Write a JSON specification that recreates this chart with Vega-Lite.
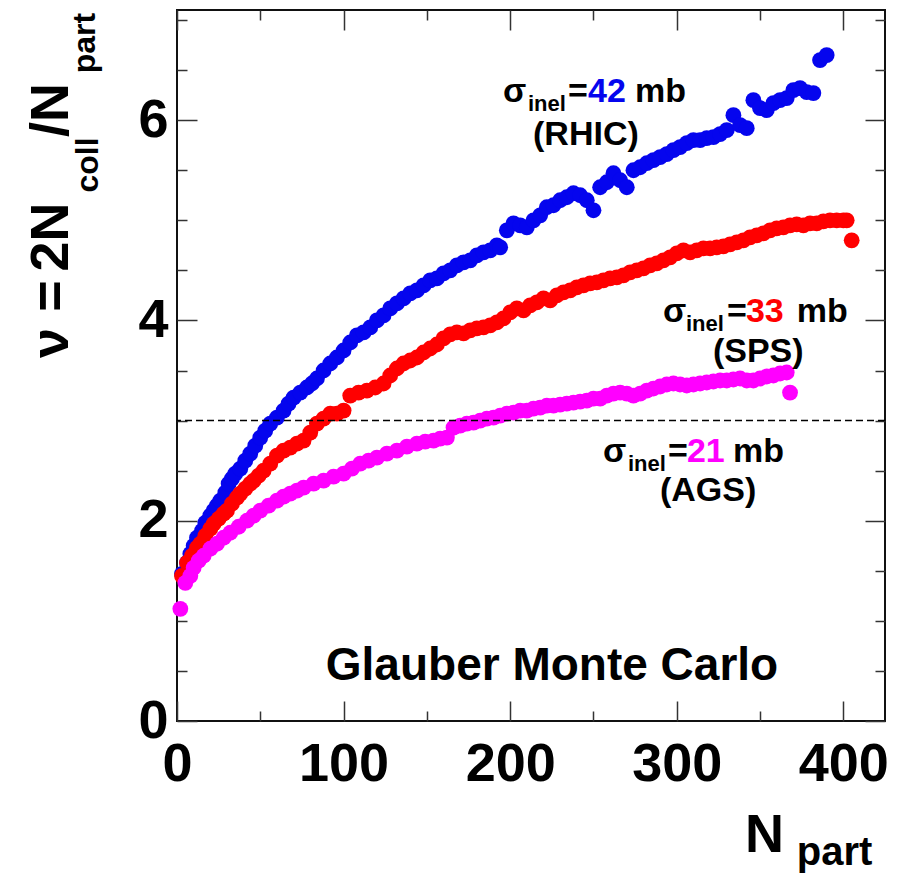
{
  "$schema": "https://vega.github.io/schema/vega-lite/v6.json",
  "width": 708,
  "height": 711,
  "autosize": "none",
  "padding": {"left": 177, "top": 10, "right": 16, "bottom": 159},
  "background": "#ffffff",
  "config": {
    "view": {"stroke": "#111", "strokeWidth": 2},
    "font": "Liberation Sans",
    "text": {"font": "Liberation Sans", "fontWeight": "bold"}
  },
  "datasets": {
    "pts": [
      {"s":"RHIC","x":3,"y":1.47},{"s":"RHIC","x":6,"y":1.58},{"s":"RHIC","x":8,"y":1.67},{"s":"RHIC","x":10,"y":1.75},{"s":"RHIC","x":12,"y":1.83},{"s":"RHIC","x":15,"y":1.9},{"s":"RHIC","x":17,"y":1.98},{"s":"RHIC","x":20,"y":2.05},{"s":"RHIC","x":22,"y":2.1},{"s":"RHIC","x":24,"y":2.15},{"s":"RHIC","x":26,"y":2.2},{"s":"RHIC","x":29,"y":2.28},{"s":"RHIC","x":31,"y":2.37},{"s":"RHIC","x":33,"y":2.42},{"s":"RHIC","x":35,"y":2.47},{"s":"RHIC","x":38,"y":2.52},{"s":"RHIC","x":41,"y":2.6},{"s":"RHIC","x":44,"y":2.67},{"s":"RHIC","x":47,"y":2.75},{"s":"RHIC","x":50,"y":2.83},{"s":"RHIC","x":53,"y":2.9},{"s":"RHIC","x":56,"y":2.97},{"s":"RHIC","x":60,"y":3.03},{"s":"RHIC","x":64,"y":3.1},{"s":"RHIC","x":67,"y":3.17},{"s":"RHIC","x":70,"y":3.23},{"s":"RHIC","x":74,"y":3.28},{"s":"RHIC","x":78,"y":3.33},{"s":"RHIC","x":81,"y":3.37},{"s":"RHIC","x":84,"y":3.42},{"s":"RHIC","x":88,"y":3.5},{"s":"RHIC","x":92,"y":3.57},{"s":"RHIC","x":96,"y":3.63},{"s":"RHIC","x":100,"y":3.7},{"s":"RHIC","x":104,"y":3.78},{"s":"RHIC","x":108,"y":3.85},{"s":"RHIC","x":112,"y":3.88},{"s":"RHIC","x":116,"y":3.93},{"s":"RHIC","x":120,"y":4.0},{"s":"RHIC","x":124,"y":4.05},{"s":"RHIC","x":128,"y":4.12},{"s":"RHIC","x":132,"y":4.17},{"s":"RHIC","x":136,"y":4.22},{"s":"RHIC","x":140,"y":4.27},{"s":"RHIC","x":144,"y":4.3},{"s":"RHIC","x":148,"y":4.35},{"s":"RHIC","x":152,"y":4.4},{"s":"RHIC","x":156,"y":4.42},{"s":"RHIC","x":160,"y":4.47},{"s":"RHIC","x":164,"y":4.5},{"s":"RHIC","x":168,"y":4.55},{"s":"RHIC","x":172,"y":4.58},{"s":"RHIC","x":176,"y":4.6},{"s":"RHIC","x":180,"y":4.65},{"s":"RHIC","x":184,"y":4.68},{"s":"RHIC","x":188,"y":4.7},{"s":"RHIC","x":192,"y":4.75},{"s":"RHIC","x":194,"y":4.73},{"s":"RHIC","x":198,"y":4.9},{"s":"RHIC","x":202,"y":4.97},{"s":"RHIC","x":206,"y":4.95},{"s":"RHIC","x":210,"y":4.93},{"s":"RHIC","x":214,"y":5.0},{"s":"RHIC","x":218,"y":5.05},{"s":"RHIC","x":222,"y":5.13},{"s":"RHIC","x":226,"y":5.15},{"s":"RHIC","x":230,"y":5.2},{"s":"RHIC","x":234,"y":5.23},{"s":"RHIC","x":238,"y":5.27},{"s":"RHIC","x":242,"y":5.25},{"s":"RHIC","x":246,"y":5.2},{"s":"RHIC","x":250,"y":5.1},{"s":"RHIC","x":254,"y":5.33},{"s":"RHIC","x":258,"y":5.38},{"s":"RHIC","x":262,"y":5.47},{"s":"RHIC","x":266,"y":5.4},{"s":"RHIC","x":270,"y":5.33},{"s":"RHIC","x":274,"y":5.5},{"s":"RHIC","x":278,"y":5.53},{"s":"RHIC","x":282,"y":5.57},{"s":"RHIC","x":286,"y":5.6},{"s":"RHIC","x":290,"y":5.63},{"s":"RHIC","x":294,"y":5.66},{"s":"RHIC","x":298,"y":5.7},{"s":"RHIC","x":302,"y":5.73},{"s":"RHIC","x":306,"y":5.77},{"s":"RHIC","x":310,"y":5.8},{"s":"RHIC","x":314,"y":5.8},{"s":"RHIC","x":318,"y":5.82},{"s":"RHIC","x":322,"y":5.83},{"s":"RHIC","x":326,"y":5.86},{"s":"RHIC","x":330,"y":5.9},{"s":"RHIC","x":334,"y":6.05},{"s":"RHIC","x":338,"y":5.95},{"s":"RHIC","x":342,"y":5.92},{"s":"RHIC","x":346,"y":6.2},{"s":"RHIC","x":350,"y":6.12},{"s":"RHIC","x":354,"y":6.1},{"s":"RHIC","x":358,"y":6.17},{"s":"RHIC","x":362,"y":6.2},{"s":"RHIC","x":366,"y":6.22},{"s":"RHIC","x":370,"y":6.3},{"s":"RHIC","x":374,"y":6.32},{"s":"RHIC","x":378,"y":6.28},{"s":"RHIC","x":382,"y":6.27},{"s":"RHIC","x":386,"y":6.6},{"s":"RHIC","x":390,"y":6.65},
      {"s":"SPS","x":3,"y":1.45},{"s":"SPS","x":6,"y":1.58},{"s":"SPS","x":9,"y":1.65},{"s":"SPS","x":12,"y":1.73},{"s":"SPS","x":14,"y":1.77},{"s":"SPS","x":17,"y":1.85},{"s":"SPS","x":20,"y":1.92},{"s":"SPS","x":22,"y":1.97},{"s":"SPS","x":25,"y":2.02},{"s":"SPS","x":28,"y":2.07},{"s":"SPS","x":30,"y":2.1},{"s":"SPS","x":33,"y":2.17},{"s":"SPS","x":36,"y":2.23},{"s":"SPS","x":38,"y":2.27},{"s":"SPS","x":41,"y":2.32},{"s":"SPS","x":44,"y":2.37},{"s":"SPS","x":46,"y":2.4},{"s":"SPS","x":49,"y":2.45},{"s":"SPS","x":52,"y":2.5},{"s":"SPS","x":56,"y":2.57},{"s":"SPS","x":60,"y":2.65},{"s":"SPS","x":64,"y":2.7},{"s":"SPS","x":68,"y":2.73},{"s":"SPS","x":72,"y":2.77},{"s":"SPS","x":76,"y":2.8},{"s":"SPS","x":80,"y":2.88},{"s":"SPS","x":84,"y":2.97},{"s":"SPS","x":88,"y":3.02},{"s":"SPS","x":92,"y":3.07},{"s":"SPS","x":96,"y":3.07},{"s":"SPS","x":100,"y":3.1},{"s":"SPS","x":104,"y":3.25},{"s":"SPS","x":109,"y":3.28},{"s":"SPS","x":114,"y":3.3},{"s":"SPS","x":119,"y":3.33},{"s":"SPS","x":124,"y":3.37},{"s":"SPS","x":128,"y":3.45},{"s":"SPS","x":132,"y":3.52},{"s":"SPS","x":136,"y":3.57},{"s":"SPS","x":140,"y":3.6},{"s":"SPS","x":144,"y":3.63},{"s":"SPS","x":148,"y":3.68},{"s":"SPS","x":152,"y":3.72},{"s":"SPS","x":156,"y":3.76},{"s":"SPS","x":160,"y":3.82},{"s":"SPS","x":164,"y":3.86},{"s":"SPS","x":168,"y":3.88},{"s":"SPS","x":172,"y":3.87},{"s":"SPS","x":176,"y":3.9},{"s":"SPS","x":180,"y":3.92},{"s":"SPS","x":184,"y":3.93},{"s":"SPS","x":188,"y":3.95},{"s":"SPS","x":192,"y":3.98},{"s":"SPS","x":196,"y":4.02},{"s":"SPS","x":200,"y":4.08},{"s":"SPS","x":204,"y":4.12},{"s":"SPS","x":208,"y":4.1},{"s":"SPS","x":212,"y":4.15},{"s":"SPS","x":216,"y":4.18},{"s":"SPS","x":220,"y":4.22},{"s":"SPS","x":224,"y":4.2},{"s":"SPS","x":228,"y":4.25},{"s":"SPS","x":232,"y":4.28},{"s":"SPS","x":236,"y":4.3},{"s":"SPS","x":240,"y":4.33},{"s":"SPS","x":244,"y":4.35},{"s":"SPS","x":248,"y":4.37},{"s":"SPS","x":252,"y":4.38},{"s":"SPS","x":256,"y":4.4},{"s":"SPS","x":260,"y":4.42},{"s":"SPS","x":264,"y":4.43},{"s":"SPS","x":268,"y":4.45},{"s":"SPS","x":272,"y":4.48},{"s":"SPS","x":276,"y":4.5},{"s":"SPS","x":280,"y":4.52},{"s":"SPS","x":284,"y":4.55},{"s":"SPS","x":288,"y":4.57},{"s":"SPS","x":292,"y":4.6},{"s":"SPS","x":296,"y":4.63},{"s":"SPS","x":300,"y":4.67},{"s":"SPS","x":304,"y":4.7},{"s":"SPS","x":308,"y":4.68},{"s":"SPS","x":312,"y":4.7},{"s":"SPS","x":316,"y":4.72},{"s":"SPS","x":320,"y":4.72},{"s":"SPS","x":324,"y":4.73},{"s":"SPS","x":328,"y":4.74},{"s":"SPS","x":332,"y":4.76},{"s":"SPS","x":336,"y":4.78},{"s":"SPS","x":340,"y":4.8},{"s":"SPS","x":344,"y":4.83},{"s":"SPS","x":348,"y":4.85},{"s":"SPS","x":352,"y":4.87},{"s":"SPS","x":356,"y":4.9},{"s":"SPS","x":360,"y":4.92},{"s":"SPS","x":364,"y":4.93},{"s":"SPS","x":368,"y":4.95},{"s":"SPS","x":372,"y":4.96},{"s":"SPS","x":376,"y":4.95},{"s":"SPS","x":380,"y":4.97},{"s":"SPS","x":384,"y":4.97},{"s":"SPS","x":388,"y":4.99},{"s":"SPS","x":392,"y":5.0},{"s":"SPS","x":396,"y":5.0},{"s":"SPS","x":400,"y":5.0},{"s":"SPS","x":402,"y":5.0},{"s":"SPS","x":405,"y":4.8},
      {"s":"AGS","x":2,"y":1.12},{"s":"AGS","x":5,"y":1.38},{"s":"AGS","x":8,"y":1.45},{"s":"AGS","x":10,"y":1.53},{"s":"AGS","x":13,"y":1.6},{"s":"AGS","x":16,"y":1.65},{"s":"AGS","x":20,"y":1.72},{"s":"AGS","x":24,"y":1.77},{"s":"AGS","x":28,"y":1.83},{"s":"AGS","x":32,"y":1.88},{"s":"AGS","x":37,"y":1.94},{"s":"AGS","x":42,"y":2.0},{"s":"AGS","x":46,"y":2.05},{"s":"AGS","x":50,"y":2.1},{"s":"AGS","x":55,"y":2.15},{"s":"AGS","x":60,"y":2.2},{"s":"AGS","x":64,"y":2.24},{"s":"AGS","x":68,"y":2.27},{"s":"AGS","x":72,"y":2.3},{"s":"AGS","x":76,"y":2.33},{"s":"AGS","x":82,"y":2.37},{"s":"AGS","x":88,"y":2.4},{"s":"AGS","x":94,"y":2.44},{"s":"AGS","x":100,"y":2.47},{"s":"AGS","x":105,"y":2.52},{"s":"AGS","x":110,"y":2.57},{"s":"AGS","x":115,"y":2.6},{"s":"AGS","x":120,"y":2.63},{"s":"AGS","x":126,"y":2.67},{"s":"AGS","x":132,"y":2.7},{"s":"AGS","x":138,"y":2.74},{"s":"AGS","x":144,"y":2.77},{"s":"AGS","x":149,"y":2.79},{"s":"AGS","x":154,"y":2.8},{"s":"AGS","x":158,"y":2.82},{"s":"AGS","x":162,"y":2.83},{"s":"AGS","x":166,"y":2.93},{"s":"AGS","x":170,"y":2.95},{"s":"AGS","x":174,"y":2.97},{"s":"AGS","x":178,"y":2.98},{"s":"AGS","x":182,"y":3.0},{"s":"AGS","x":186,"y":3.02},{"s":"AGS","x":190,"y":3.03},{"s":"AGS","x":194,"y":3.05},{"s":"AGS","x":198,"y":3.07},{"s":"AGS","x":202,"y":3.08},{"s":"AGS","x":206,"y":3.1},{"s":"AGS","x":210,"y":3.1},{"s":"AGS","x":214,"y":3.12},{"s":"AGS","x":218,"y":3.13},{"s":"AGS","x":222,"y":3.15},{"s":"AGS","x":226,"y":3.15},{"s":"AGS","x":230,"y":3.16},{"s":"AGS","x":234,"y":3.17},{"s":"AGS","x":238,"y":3.18},{"s":"AGS","x":242,"y":3.19},{"s":"AGS","x":246,"y":3.2},{"s":"AGS","x":250,"y":3.22},{"s":"AGS","x":254,"y":3.22},{"s":"AGS","x":258,"y":3.25},{"s":"AGS","x":262,"y":3.27},{"s":"AGS","x":266,"y":3.28},{"s":"AGS","x":270,"y":3.27},{"s":"AGS","x":274,"y":3.25},{"s":"AGS","x":278,"y":3.27},{"s":"AGS","x":282,"y":3.3},{"s":"AGS","x":286,"y":3.32},{"s":"AGS","x":290,"y":3.34},{"s":"AGS","x":294,"y":3.36},{"s":"AGS","x":298,"y":3.37},{"s":"AGS","x":302,"y":3.36},{"s":"AGS","x":306,"y":3.35},{"s":"AGS","x":310,"y":3.36},{"s":"AGS","x":314,"y":3.37},{"s":"AGS","x":318,"y":3.38},{"s":"AGS","x":322,"y":3.39},{"s":"AGS","x":326,"y":3.4},{"s":"AGS","x":330,"y":3.4},{"s":"AGS","x":334,"y":3.41},{"s":"AGS","x":338,"y":3.42},{"s":"AGS","x":342,"y":3.4},{"s":"AGS","x":346,"y":3.4},{"s":"AGS","x":350,"y":3.42},{"s":"AGS","x":354,"y":3.44},{"s":"AGS","x":358,"y":3.45},{"s":"AGS","x":362,"y":3.47},{"s":"AGS","x":366,"y":3.48},{"s":"AGS","x":368,"y":3.28}
    ],
    "annMain": [
      {"x":195.7,"y":6.181,"t":"σ"},{"x":234.7,"y":6.181,"t":"="},{"x":274.9,"y":6.181,"t":"mb"},{"x":213.7,"y":5.752,"t":"(RHIC)"},
      {"x":291.7,"y":3.981,"t":"σ"},{"x":330.1,"y":3.981,"t":"="},{"x":372.1,"y":3.981,"t":"mb"},{"x":321.7,"y":3.585,"t":"(SPS)"},
      {"x":255.7,"y":2.586,"t":"σ"},{"x":294.7,"y":2.586,"t":"="},{"x":333.7,"y":2.586,"t":"mb"},{"x":289.9,"y":2.197,"t":"(AGS)"}
    ],
    "annSub": [
      {"x":210.7,"y":6.091,"t":"inel"},{"x":305.5,"y":3.891,"t":"inel"},{"x":270.7,"y":2.497,"t":"inel"}
    ],
    "annNum": [
      {"x":246.7,"y":6.181,"t":"42","s":"RHIC"},{"x":341.5,"y":3.981,"t":"33","s":"SPS"},{"x":306.1,"y":2.586,"t":"21","s":"AGS"}
    ],
    "label": [{"x":225.1,"y":0.41,"t":"Glauber Monte Carlo"}],
    "xTitleMain": [{"x":340.9,"y":-1.308,"t":"N"}],
    "xTitleSub": [{"x":372.1,"y":-1.438,"t":"part"}],
    "yTitleMain": [
      {"x":-65.4,"y":3.775,"t":"ν"},{"x":-65.4,"y":4.244,"t":"="},{"x":-65.4,"y":4.833,"t":"2N"},{"x":-65.4,"y":6.101,"t":"/N"}
    ],
    "yTitleSub": [
      {"x":-47.4,"y":5.552,"t":"coll"},{"x":-49.2,"y":6.77,"t":"part"}
    ],
    "ref": [{"v":3}]
  },
  "layer": [
    {
      "data": {"name": "pts"},
      "mark": {"type": "circle", "size": 250, "opacity": 1},
      "encoding": {
        "x": {"field": "x", "type": "quantitative",
          "scale": {"domain": [0, 425], "nice": false, "zero": false},
          "axis": {"orient": "bottom", "title": null, "grid": false, "domain": false,
            "values": [0,50,100,150,200,250,300,350,400],
            "labelExpr": "datum.value % 100 === 0 ? format(datum.value, 'd') : ''",
            "tickSize": {"condition": {"test": "datum.value % 100 === 0", "value": -20}, "value": -10},
            "tickColor": "#333", "tickWidth": 1.5,
            "labelFont": "Liberation Sans", "labelFontWeight": "bold", "labelFontSize": 54, "labelColor": "#000",
            "labelPadding": 36, "labelFlush": false, "labelOverlap": false}},
        "y": {"field": "y", "type": "quantitative",
          "scale": {"domain": [0, 7.1], "nice": false, "zero": false},
          "axis": {"orient": "left", "title": null, "grid": false, "domain": false,
            "values": [0,0.5,1,1.5,2,2.5,3,3.5,4,4.5,5,5.5,6,6.5,7],
            "labelExpr": "datum.value % 2 === 0 ? format(datum.value, 'd') : ''",
            "tickSize": {"condition": {"test": "datum.value % 2 === 0", "value": -20}, "value": -10},
            "tickColor": "#333", "tickWidth": 1.5,
            "labelFont": "Liberation Sans", "labelFontWeight": "bold", "labelFontSize": 54, "labelColor": "#000",
            "labelPadding": 29, "labelFlush": false, "labelOverlap": false}},
        "color": {"field": "s", "type": "nominal",
          "scale": {"domain": ["RHIC", "SPS", "AGS"], "range": ["#0505ee", "#ff0000", "#ff00ff"]},
          "legend": null}
      }
    },
    {
      "data": {"name": "ref"},
      "mark": {"type": "rule", "strokeDash": [7, 4], "strokeWidth": 1.5, "color": "#000"},
      "encoding": {"y": {"field": "v", "type": "quantitative", "axis": null}}
    },
    {
      "data": {"name": "label"},
      "mark": {"type": "text", "fontSize": 46, "align": "center", "baseline": "alphabetic", "color": "#000"},
      "encoding": {
        "x": {"field": "x", "type": "quantitative",
          "axis": {"orient": "top", "title": null, "grid": false, "domain": false, "labels": false,
            "values": [0,50,100,150,200,250,300,350,400],
            "tickSize": {"condition": {"test": "datum.value % 100 === 0", "value": -20}, "value": -10},
            "tickColor": "#333", "tickWidth": 1.5}},
        "y": {"field": "y", "type": "quantitative",
          "axis": {"orient": "right", "title": null, "grid": false, "domain": false, "labels": false,
            "values": [0,0.5,1,1.5,2,2.5,3,3.5,4,4.5,5,5.5,6,6.5,7],
            "tickSize": {"condition": {"test": "datum.value % 2 === 0", "value": -20}, "value": -10},
            "tickColor": "#333", "tickWidth": 1.5}},
        "text": {"field": "t"}
      }
    },
    {
      "data": {"name": "annMain"},
      "mark": {"type": "text", "fontSize": 34, "align": "left", "baseline": "alphabetic", "color": "#000"},
      "encoding": {
        "x": {"field": "x", "type": "quantitative", "axis": null},
        "y": {"field": "y", "type": "quantitative", "axis": null},
        "text": {"field": "t"}
      }
    },
    {
      "data": {"name": "annSub"},
      "mark": {"type": "text", "fontSize": 22, "align": "left", "baseline": "alphabetic", "color": "#000"},
      "encoding": {
        "x": {"field": "x", "type": "quantitative", "axis": null},
        "y": {"field": "y", "type": "quantitative", "axis": null},
        "text": {"field": "t"}
      }
    },
    {
      "data": {"name": "annNum"},
      "mark": {"type": "text", "fontSize": 34, "align": "left", "baseline": "alphabetic"},
      "encoding": {
        "x": {"field": "x", "type": "quantitative", "axis": null},
        "y": {"field": "y", "type": "quantitative", "axis": null},
        "color": {"field": "s", "type": "nominal", "legend": null},
        "text": {"field": "t"}
      }
    },
    {
      "data": {"name": "xTitleMain"},
      "mark": {"type": "text", "fontSize": 54, "align": "left", "baseline": "alphabetic", "color": "#000"},
      "encoding": {
        "x": {"field": "x", "type": "quantitative", "axis": null},
        "y": {"field": "y", "type": "quantitative", "axis": null},
        "text": {"field": "t"}
      }
    },
    {
      "data": {"name": "xTitleSub"},
      "mark": {"type": "text", "fontSize": 40, "align": "left", "baseline": "alphabetic", "color": "#000"},
      "encoding": {
        "x": {"field": "x", "type": "quantitative", "axis": null},
        "y": {"field": "y", "type": "quantitative", "axis": null},
        "text": {"field": "t"}
      }
    },
    {
      "data": {"name": "yTitleMain"},
      "mark": {"type": "text", "fontSize": 54, "angle": 270, "align": "center", "baseline": "alphabetic", "color": "#000"},
      "encoding": {
        "x": {"field": "x", "type": "quantitative", "axis": null},
        "y": {"field": "y", "type": "quantitative", "axis": null},
        "text": {"field": "t"}
      }
    },
    {
      "data": {"name": "yTitleSub"},
      "mark": {"type": "text", "fontSize": 32, "angle": 270, "align": "center", "baseline": "alphabetic", "color": "#000"},
      "encoding": {
        "x": {"field": "x", "type": "quantitative", "axis": null},
        "y": {"field": "y", "type": "quantitative", "axis": null},
        "text": {"field": "t"}
      }
    }
  ],
  "resolve": {"axis": {"x": "independent", "y": "independent"}}
}
